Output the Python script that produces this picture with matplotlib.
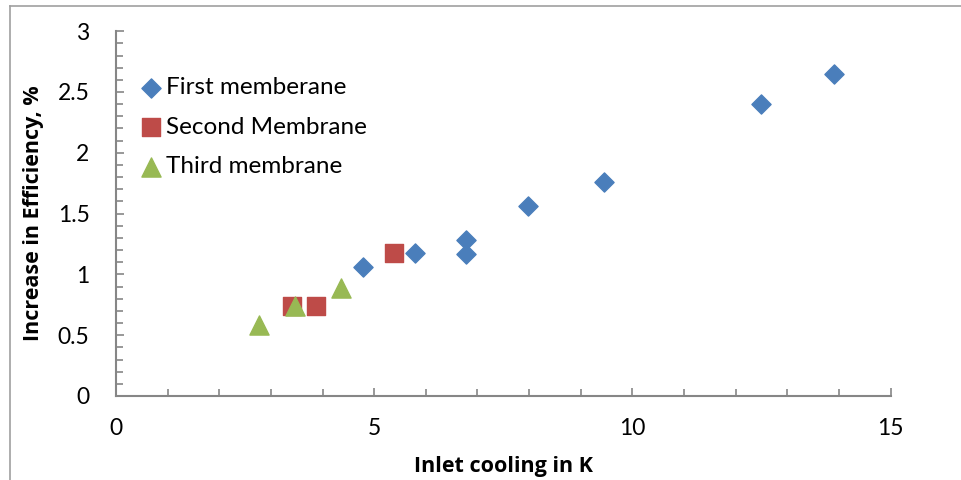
import matplotlib
matplotlib.use("Agg")
from matplotlib import pyplot as plt
from matplotlib.lines import Line2D
import numpy as np

plt.rcParams['font.family'] = ['Lato', 'DejaVu Sans']

# valores
first_x = [4.78, 5.79, 6.77, 6.77, 7.97, 9.46, 12.5, 13.9]
first_y = [1.06, 1.18, 1.28, 1.17, 1.56, 1.76, 2.40, 2.65]
second_x = [3.41, 3.87, 5.38]
second_y = [0.74, 0.74, 1.18]
third_x = [2.77, 3.46, 4.35]
third_y = [0.58, 0.74, 0.89]
labels = ["First memberane", "Second Membrane", "Third membrane"]
xticks = [0, 5, 10, 15]
yticks = [0, 0.5, 1, 1.5, 2, 2.5, 3]
ytick_labels = ["0", "0.5", "1", "1.5", "2", "2.5", "3"]

fig = plt.figure(figsize=(9.61, 4.80), dpi=100)
ax = fig.add_axes([0.1207, 0.175, 0.806, 0.76])

ax.scatter(first_x, first_y, marker="D", s=95, color="#4a7ebb", label=labels[0], zorder=3)
ax.scatter(second_x, second_y, marker="s", s=170, color="#be4b48", label=labels[1], zorder=3)
ax.scatter(third_x, third_y, marker="^", s=190, color="#98b954", label=labels[2], zorder=4)

ax.set_xlim(0, 15)
ax.set_ylim(0, 3)
ax.set_xticks(xticks)
ax.set_xticklabels([str(v) for v in xticks])
ax.set_xticks(np.arange(0, 15.01, 1), minor=True)
ax.set_yticks(yticks)
ax.set_yticklabels(ytick_labels)
ax.set_yticks(np.arange(0, 3.001, 0.1), minor=True)

for s in ["top", "right"]:
    ax.spines[s].set_visible(False)
for s in ["left", "bottom"]:
    ax.spines[s].set_color("#868686")
    ax.spines[s].set_linewidth(1.5)

ax.tick_params(which="both", direction="in", color="#868686", width=1.2, labelsize=16.5)
ax.tick_params(which="major", length=6)
ax.tick_params(which="minor", length=5)
ax.tick_params(axis="x", which="major", pad=16)
ax.tick_params(axis="y", which="major", pad=19)

ax.set_xlabel("Inlet cooling in K", fontsize=15.5, fontweight="bold",
              family=["Open Sans", "DejaVu Sans"], labelpad=12)
ax.set_ylabel("Increase in Efficiency, %", fontsize=15.5, fontweight="bold",
              family=["Open Sans", "DejaVu Sans"], labelpad=10)

ax.legend(loc="upper left", bbox_to_anchor=(0.008, 0.9), frameon=False, fontsize=17.5,
          handletextpad=-0.2, labelspacing=0.75, borderaxespad=0, handlelength=1.6,
          scatterpoints=1)

# borde de la figura
fig.add_artist(Line2D([0.0105, 0.0105], [0, 0.988], color="#a0a0a0", lw=1.2))
fig.add_artist(Line2D([0.0105, 1.0], [0.988, 0.988], color="#a0a0a0", lw=1.2))

fig.savefig("out.png", dpi=100)
